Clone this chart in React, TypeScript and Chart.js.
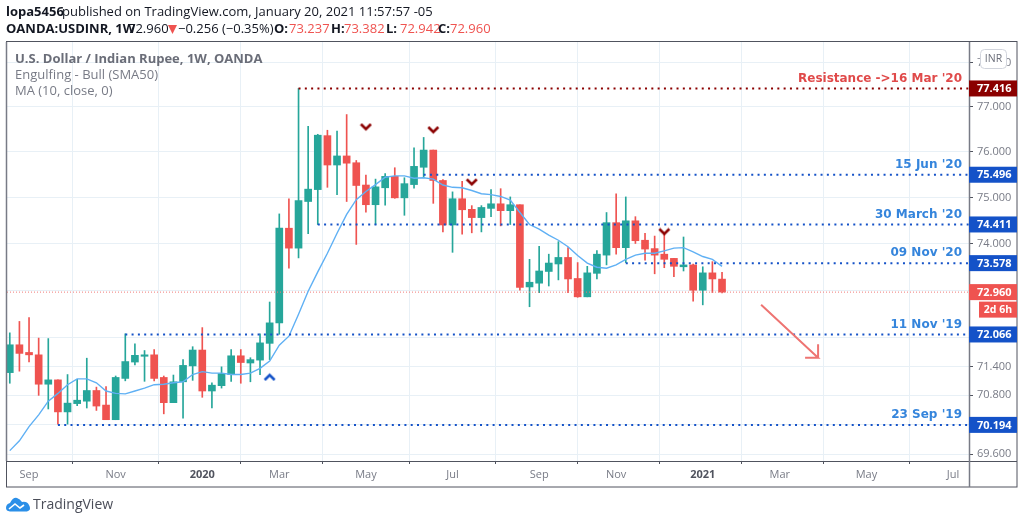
import React, { useEffect, useRef } from "react";
import { Chart, registerables } from "chart.js";

Chart.register(...registerables);

const opens = [71.27,71.85,71.69,71.64,71.03,71.12,70.46,70.63,70.68,70.90,70.60,70.30,71.15,71.49,71.61,71.64,71.17,70.65,71.08,71.41,71.74,70.89,71.00,71.23,71.62,71.47,71.53,71.88,72.31,74.33,73.90,74.91,75.17,76.36,75.71,75.91,75.76,75.27,74.84,75.21,75.46,74.99,75.28,75.66,76.04,75.37,74.40,74.97,74.74,74.56,74.76,74.86,74.71,74.84,73.07,73.15,73.40,73.56,73.70,73.25,72.86,73.36,73.75,74.45,73.91,74.49,74.07,73.89,73.77,73.68,73.50,73.54,73.00,73.37,73.237];
const closes = [71.85,71.67,71.64,71.03,71.12,70.46,70.64,70.70,70.90,70.58,70.30,71.17,71.50,71.63,71.64,71.15,70.65,71.08,71.42,71.74,70.89,71.01,71.25,71.62,71.48,71.54,71.89,72.31,74.33,73.90,74.93,75.18,76.37,75.71,75.91,75.75,75.26,74.84,75.23,75.46,74.99,75.30,75.68,76.04,75.37,74.40,74.97,74.73,74.56,74.78,74.86,74.71,74.84,73.06,73.17,73.41,73.58,73.70,73.24,72.86,73.37,73.77,74.45,73.91,74.49,74.06,73.88,73.75,73.66,73.51,73.54,73.00,73.37,73.24,72.96];
const highs = [72.10,72.34,72.42,71.99,71.98,71.12,71.23,71.13,71.57,70.97,70.98,71.20,72.08,71.87,71.73,71.75,71.20,71.22,71.54,71.81,72.21,71.06,71.39,71.75,71.75,71.58,72.08,72.75,74.64,74.97,77.416,76.57,76.39,76.48,76.46,76.83,75.81,75.49,75.40,75.52,75.65,75.43,76.09,76.32,76.04,75.39,75.12,75.35,74.82,74.82,75.17,75.19,75.01,74.84,73.66,73.94,73.77,74.04,73.91,73.59,73.51,73.85,74.67,75.08,75.01,74.58,74.22,74.16,74.20,73.68,74.14,73.56,73.50,73.61,73.382];
const lows = [71.05,71.30,71.49,70.80,70.52,70.21,70.21,70.59,70.54,70.49,70.30,70.30,71.10,71.43,71.09,71.10,70.42,70.65,70.33,71.11,70.76,70.54,70.95,71.09,71.05,71.08,71.23,71.54,72.07,73.47,73.69,74.21,74.41,75.22,75.06,74.91,73.98,74.68,74.41,74.83,74.98,74.61,75.20,75.43,74.87,74.25,73.81,74.20,74.23,74.25,74.58,74.38,74.41,73.00,72.65,72.95,73.09,73.22,72.95,72.85,72.86,73.24,73.54,73.77,73.59,74.00,73.64,73.35,73.48,73.29,73.41,72.77,72.69,72.95,72.942];
const maValues = [69.67,69.87,70.16,70.40,70.68,70.84,71.02,71.14,71.14,71.06,70.89,70.84,70.83,70.89,70.95,71.02,71.03,71.06,71.08,71.23,71.29,71.26,71.26,71.23,71.23,71.26,71.36,71.51,71.84,72.03,72.49,72.98,73.39,73.79,74.22,74.63,74.95,75.13,75.28,75.44,75.47,75.47,75.42,75.43,75.40,75.27,75.22,75.21,75.15,75.08,75.06,75.02,74.94,74.67,74.41,74.31,74.18,74.07,73.93,73.74,73.58,73.49,73.47,73.54,73.66,73.75,73.79,73.79,73.84,73.90,73.91,73.82,73.72,73.66,73.51];

const levelValues = [77.416, 75.496, 74.411, 73.578, 72.066, 70.194];
const levelStarts = [30, 43, 32, 64, 12, 5];
const levelNotes = ["Resistance ->16 Mar '20", "15 Jun '20", "30 March '20", "09 Nov '20", "11 Nov '19", "23 Sep '19"];
const lastPrice = 72.96;

const downMarkerX = [37, 44, 48, 68];
const downMarkerY = [76.55, 76.485, 75.33, 74.25];
const upMarkerX = [27];
const upMarkerY = [71.18];

const arrowX = [78.06, 83.98, 82.63, 83.98, 83.98];
const arrowY = [72.69, 71.58, 71.58, 71.58, 71.86];

const priceTicks = [78, 77, 76, 75, 74, 73, 72, 71.4, 70.8, 70.2, 69.6];
const timeTicks = [2, 11, 20, 28, 37, 46, 55, 63, 72, 80, 89, 98];
const timeLabels = ["Sep", "Nov", "2020", "Mar", "May", "Jul", "Sep", "Nov", "2021", "Mar", "May", "Jul"];

const GREEN = "#26a69a";
const RED = "#ef5350";
const DARK_RED = "#8b0000";
const BLUE = "#1452c8";
const AXIS = "#50535e";
const GRID = "#e8f0f6";
const SANS = '"Open Sans"';
const BOLD_LABEL = '"DejaVu Sans"';

function chevron(color: string, up: boolean) {
  const c = document.createElement("canvas");
  c.width = 13;
  c.height = 9;
  const g = c.getContext("2d")!;
  g.strokeStyle = color;
  g.lineWidth = 2.6;
  g.beginPath();
  if (up) {
    g.moveTo(1.5, 7.5); g.lineTo(6.5, 2.5); g.lineTo(11.5, 7.5);
  } else {
    g.moveTo(1.5, 1.5); g.lineTo(6.5, 6.5); g.lineTo(11.5, 1.5);
  }
  g.stroke();
  return c;
}

const overlay = {
  id: "overlay",
  afterDraw(chart: any) {
    const ctx = chart.ctx as CanvasRenderingContext2D;
    const { left, right, top, bottom } = chart.chartArea;
    const y = chart.scales.y;
    const axisRight = 1017;
    const frameBottom = 487;
    ctx.save();
    ctx.textBaseline = "middle";
    ctx.textAlign = "left";

    // frame
    ctx.strokeStyle = AXIS;
    ctx.lineWidth = 1;
    ctx.strokeRect(left - 0.5, top - 0.5, axisRight - left + 0.5, frameBottom - top + 0.5);
    ctx.beginPath();
    ctx.moveTo(left, bottom + 0.5); ctx.lineTo(axisRight, bottom + 0.5);
    ctx.stroke();
    ctx.strokeStyle = "#787b86";
    ctx.lineWidth = 1.5;
    ctx.beginPath();
    ctx.moveTo(right + 0.5, top); ctx.lineTo(right + 0.5, frameBottom);
    ctx.moveTo(left - 0.5, top); ctx.lineTo(left - 0.5, bottom);
    ctx.stroke();

    // header
    const seg = (t: string, x: number, yy: number, font: string, color: string) => {
      ctx.font = font; ctx.fillStyle = color; ctx.fillText(t, x, yy);
    };
    const f = `13px ${SANS}`;
    const fb = `bold 13px ${SANS}`;
    seg("lopa5456", 6, 12, fb, "#131722");
    seg("published on TradingView.com, January 20, 2021 11:57:57 -05", 62, 12, f, "#131722");
    seg("OANDA:USDINR, 1W", 6, 29, fb, "#131722");
    seg("72.960", 128, 29, f, "#131722");
    ctx.fillStyle = RED;
    ctx.beginPath();
    ctx.moveTo(168, 25); ctx.lineTo(177, 25); ctx.lineTo(172.5, 34); ctx.closePath();
    ctx.fill();
    seg("\u22120.256 (\u22120.35%)", 178, 29, f, "#131722");
    const ohlc: [string, number, string, number][] = [["O:", 274, "73.237", 289], ["H:", 331, "73.382", 344], ["L:", 386, "72.942", 400], ["C:", 438, "72.960", 450]];
    ohlc.forEach(([a, ax, b, bx]) => { seg(a, ax, 29, fb, "#131722"); seg(b, bx, 29, f, RED); });

    // legend
    seg("U.S. Dollar / Indian Rupee, 1W, OANDA", 15, 59, fb, "#6a6d78");
    seg("Engulfing - Bull (SMA50)", 15, 75, f, "#787b86");
    seg("MA (10, close, 0)", 15, 91, f, "#787b86");

    // level notes
    ctx.textAlign = "right";
    ctx.font = `bold 12px ${BOLD_LABEL}`;
    levelNotes.forEach((t, i) => {
      ctx.fillStyle = i === 0 ? "#e04a4a" : "#3585dc";
      ctx.fillText(t, 962, y.getPixelForValue(levelValues[i]) - 10);
    });

    // value boxes
    ctx.textAlign = "left";
    const box = (v: number, color: string) => {
      const py = y.getPixelForValue(v);
      ctx.fillStyle = color;
      ctx.fillRect(right, py - 8, axisRight - right, 16);
      ctx.fillStyle = "#fff";
      ctx.font = `bold 11px ${SANS}`;
      ctx.fillText(v.toFixed(3), right + 8, py + 0.5);
    };
    levelValues.forEach((v, i) => box(v, i === 0 ? DARK_RED : BLUE));
    box(lastPrice, RED);
    const lp = y.getPixelForValue(lastPrice);
    ctx.fillStyle = RED;
    ctx.fillRect(979, lp + 9.5, axisRight - 979, 16);
    ctx.fillStyle = "#fff";
    ctx.font = `bold 10.5px ${SANS}`;
    ctx.textAlign = "center";
    ctx.fillText("2d 6h", 998, lp + 18);

    // currency button
    ctx.fillStyle = "#fff";
    ctx.strokeStyle = "#d1d4dc";
    ctx.lineWidth = 1;
    ctx.beginPath();
    ctx.roundRect(980.5, 49.5, 26, 19, 4);
    ctx.fill();
    ctx.stroke();
    ctx.fillStyle = "#6a6d78";
    ctx.font = `10.5px ${SANS}`;
    ctx.fillText("INR", 993.5, 59.5);

    // logo
    ctx.fillStyle = "#2b8fe8";
    ctx.beginPath();
    ctx.moveTo(6, 508);
    ctx.quadraticCurveTo(6, 504, 10, 503);
    ctx.quadraticCurveTo(13, 497, 17, 498);
    ctx.quadraticCurveTo(20, 499, 22, 502);
    ctx.quadraticCurveTo(27, 501, 29, 505);
    ctx.quadraticCurveTo(32, 510, 27, 511.5);
    ctx.lineTo(10, 511.5);
    ctx.quadraticCurveTo(6, 511, 6, 508);
    ctx.closePath();
    ctx.fill();
    ctx.strokeStyle = "#fff";
    ctx.lineWidth = 1.6;
    ctx.beginPath();
    ctx.moveTo(9, 509);
    ctx.lineTo(15, 504);
    ctx.lineTo(20, 508);
    ctx.lineTo(24, 505);
    ctx.stroke();
    ctx.textAlign = "left";
    seg("TradingView", 33, 505, `14px ${SANS}`, "#4a4d58");
    ctx.restore();
  },
};

export default function App() {
  const ref = useRef<HTMLCanvasElement | null>(null);
  useEffect(() => {
    document.body.style.margin = "0";
    const idx = opens.map((_, i) => i);
    const colors = opens.map((o, i) => (closes[i] >= o ? GREEN : RED));
    const dotted = levelValues.map((v, i) => ({
      type: "line" as const,
      data: [{ x: levelStarts[i], y: v }, { x: 99.66, y: v }],
      borderColor: i === 0 ? DARK_RED : BLUE,
      borderWidth: 2,
      borderDash: [2, 4.3],
      pointRadius: 0,
      order: 2,
    }));
    const chart = new Chart(ref.current!, {
      type: "bar",
      data: {
        datasets: [
          {
            data: idx.map((i) => ({ x: i, y: [lows[i], highs[i]] })),
            backgroundColor: colors,
            barThickness: 1,
            grouped: false,
            order: 6,
          },
          {
            data: idx.map((i) => ({ x: i, y: [opens[i], closes[i]] })),
            backgroundColor: colors,
            barThickness: 7,
            grouped: false,
            order: 5,
          },
          {
            type: "line",
            data: idx.map((i) => ({ x: i, y: maValues[i] })),
            borderColor: "#5fb0f4",
            borderWidth: 1.4,
            pointRadius: 0,
            tension: 0,
            order: 3,
          },
          ...dotted,
          {
            type: "line",
            data: [{ x: -0.29, y: lastPrice }, { x: 99.66, y: lastPrice }],
            borderColor: "#ef7a78",
            borderWidth: 1,
            borderDash: [1, 2],
            pointRadius: 0,
            order: 4,
          },
          {
            type: "line",
            data: arrowX.map((x, i) => ({ x, y: arrowY[i] })),
            borderColor: "#ee7472",
            borderWidth: 2,
            pointRadius: 0,
            order: 1,
          },
          {
            type: "scatter",
            data: downMarkerX.map((x, i) => ({ x, y: downMarkerY[i] })),
            pointStyle: chevron(DARK_RED, false),
            order: 1,
          },
          {
            type: "scatter",
            data: upMarkerX.map((x, i) => ({ x, y: upMarkerY[i] })),
            pointStyle: chevron(BLUE, true),
            order: 1,
          },
        ] as any,
      },
      options: {
        responsive: false,
        animation: false,
        events: [],
        layout: { padding: { left: 7, top: 42, right: 7, bottom: 36 } },
        plugins: { legend: { display: false }, tooltip: { enabled: false } },
        scales: {
          x: {
            type: "linear",
            min: -0.29,
            max: 99.66,
            offset: false,
            border: { display: false },
            grid: { color: GRID, tickColor: AXIS, tickLength: 3, lineWidth: 1 },
            afterBuildTicks: (s: any) => { s.ticks = timeTicks.map((value) => ({ value })); },
            afterFit: (s: any) => { s.height = 26; },
            ticks: {
              autoSkip: false,
              maxRotation: 0,
              padding: 4,
              color: (c: any) => (/^\d/.test(String(c.tick?.label)) ? "#50535e" : "#787b86"),
              font: (c: any) => ({ family: SANS, size: 11, weight: /^\d/.test(String(c.tick?.label)) ? "bold" : "normal" }),
              callback: (v: any) => timeLabels[timeTicks.indexOf(v)] ?? "",
            },
          },
          y: {
            type: "logarithmic",
            position: "right",
            min: 69.46,
            max: 78.47,
            border: { display: false },
            grid: { color: GRID, tickColor: AXIS, tickLength: 4, lineWidth: 1 },
            afterBuildTicks: (s: any) => { s.ticks = priceTicks.map((value) => ({ value })); },
            afterFit: (s: any) => { s.width = 48; },
            ticks: {
              autoSkip: false,
              padding: 4,
              color: "#787b86",
              font: { family: SANS, size: 11 },
              callback: (v: any) => Number(v).toFixed(3),
            },
          },
        },
      } as any,
      plugins: [overlay],
    });
    return () => chart.destroy();
  }, []);
  return <canvas ref={ref} width={1024} height={523} style={{ display: "block" }} />;
}
